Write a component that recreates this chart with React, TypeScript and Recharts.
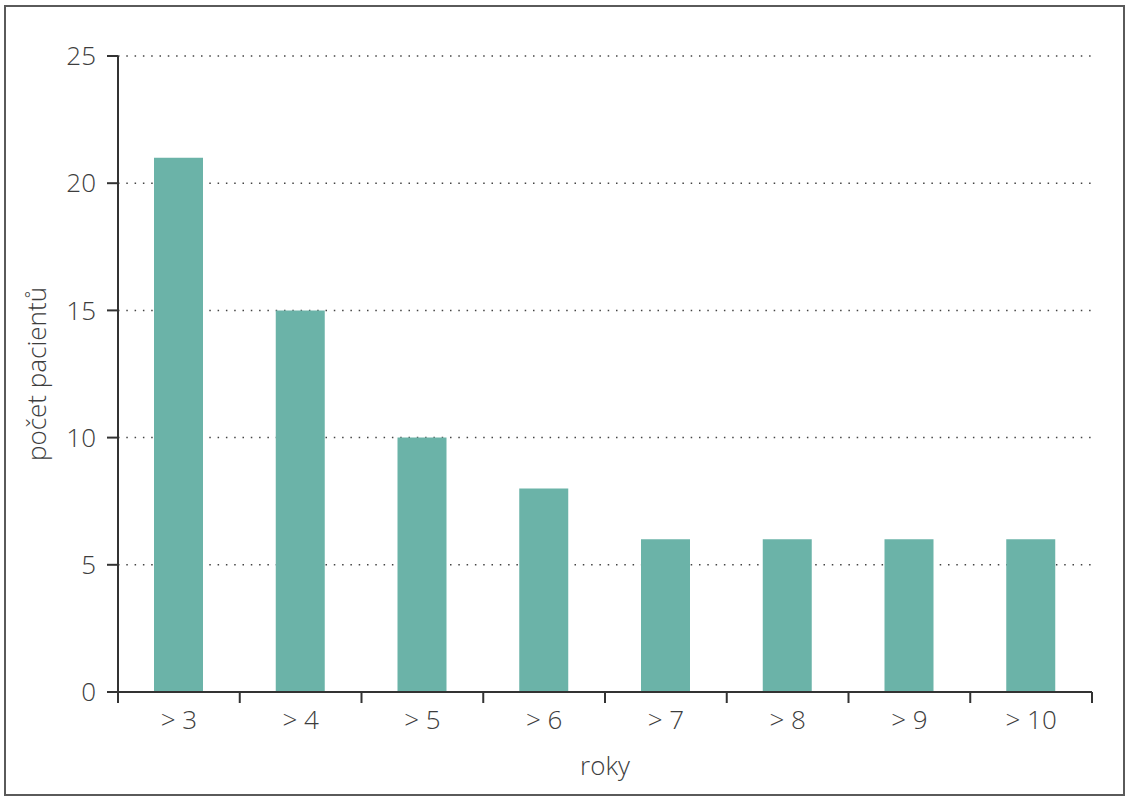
import {
  BarChart,
  Bar,
  XAxis,
  YAxis,
  CartesianGrid,
} from "recharts";

const CATEGORIES = ["> 3", "> 4", "> 5", "> 6", "> 7", "> 8", "> 9", "> 10"];
const PATIENTS = [21, 15, 10, 8, 6, 6, 6, 6];
const Y_TICKS = [0, 5, 10, 15, 20, 25];

const FONT = "'Open Sans', 'Noto Sans', sans-serif";
const TEXT = "#3d3d3d";
const AXIS = "#333333";
const X_TICK_SIZE = 11;
const X_TICK_MARGIN = 8;

const data = CATEGORIES.map((name, i) => ({ name, count: PATIENTS[i] }));

// label under each category, tick marks on the category edges
function EdgeTick(props: any) {
  const { x, y, payload, index, visibleTicksCount } = props;
  const half = payload?.offset ?? 0;
  const axisY = y - X_TICK_SIZE - X_TICK_MARGIN;
  const isLast = index === visibleTicksCount - 1;
  return (
    <g>
      <line
        x1={x - half}
        x2={x - half}
        y1={axisY}
        y2={axisY + X_TICK_SIZE}
        stroke={AXIS}
        strokeWidth={2}
      />
      {isLast && (
        <line
          x1={x + half}
          x2={x + half}
          y1={axisY}
          y2={axisY + X_TICK_SIZE}
          stroke={AXIS}
          strokeWidth={2}
        />
      )}
      <text
        x={x}
        y={y}
        dy="0.71em"
        textAnchor="middle"
        fill={TEXT}
        fontSize={26}
        fontWeight={300}
        fontFamily={FONT}
      >
        {payload.value}
      </text>
    </g>
  );
}

export default function App() {
  return (
    <div
      style={{
        position: "absolute",
        left: 0,
        top: 0,
        width: 1129,
        height: 800,
        background: "#fff",
        fontFamily: FONT,
      }}
    >
      <div
        style={{
          position: "absolute",
          left: 4,
          top: 5,
          width: 1117,
          height: 787,
          border: "2px solid #5a5a5a",
        }}
      />
      <BarChart
        width={1129}
        height={800}
        data={data}
        margin={{ top: 56, right: 37, bottom: 0, left: 0 }}
      >
        <CartesianGrid
          vertical={false}
          stroke="#444444"
          strokeWidth={1.5}
          strokeDasharray="1.5 6.8"
        />
        <XAxis
          dataKey="name"
          tickLine={false}
          tickSize={X_TICK_SIZE}
          tickMargin={X_TICK_MARGIN}
          axisLine={{ stroke: AXIS, strokeWidth: 2 }}
          tick={<EdgeTick />}
          interval={0}
          height={108}
          label={{
            value: "roky",
            position: "insideBottom",
            offset: 25,
            fill: TEXT,
            fontSize: 26,
            fontWeight: 300,
            fontFamily: FONT,
          }}
        />
        <YAxis
          domain={[0, 25]}
          ticks={Y_TICKS}
          width={118}
          tickSize={11}
          tickMargin={11}
          axisLine={{ stroke: AXIS, strokeWidth: 2 }}
          tickLine={{ stroke: AXIS, strokeWidth: 2 }}
          tick={{ fill: TEXT, fontSize: 26, fontWeight: 300, fontFamily: FONT }}
          label={{
            value: "počet pacientů",
            angle: -90,
            position: "insideLeft",
            offset: 37,
            fill: TEXT,
            fontSize: 26,
            fontWeight: 300,
            fontFamily: FONT,
            style: { textAnchor: "middle" },
          }}
        />
        <Bar
          dataKey="count"
          fill="#6bb3a8"
          barSize={49}
          isAnimationActive={false}
        />
      </BarChart>
    </div>
  );
}
